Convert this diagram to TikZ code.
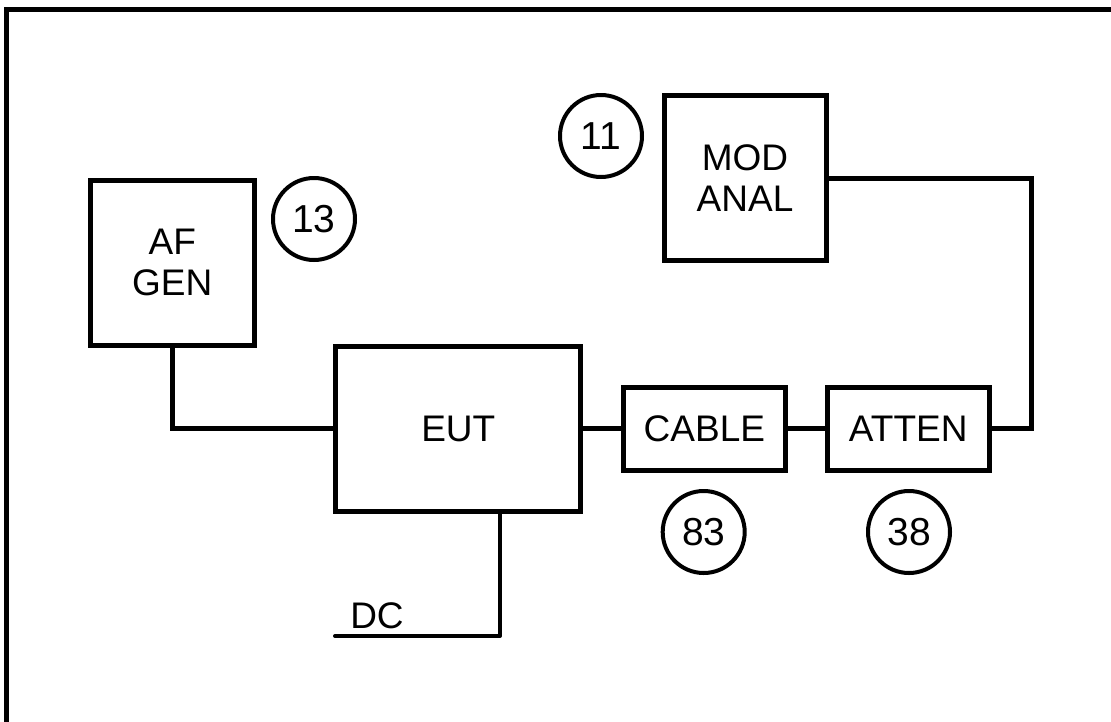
\documentclass[tikz,border=0pt]{standalone}
\usepackage{fontspec}
\setmainfont{Liberation Sans}
\begin{document}
\begin{tikzpicture}[x=1pt,y=-1pt,
  blk/.style={draw,line width=5pt,inner sep=0pt,align=center,
    font=\fontsize{37}{41}\selectfont},
  tag/.style={draw,circle,line width=4pt,inner sep=0pt,minimum size=82pt,
    font=\fontsize{39}{40}\selectfont},
  wire/.style={line width=5pt},
  thinwire/.style={line width=4pt}]
\useasboundingbox (0,0) rectangle (1111,721);
% frame
\draw[line width=5pt] (6.5,730) -- (6.5,9.5) -- (1120,9.5);
% blocks
\node[blk,minimum width=163.5pt,minimum height=165pt] (afgen) at (172.25,262.5) {AF\\GEN};
\node[blk,minimum width=245pt,minimum height=165pt] (eut) at (458.3,428.7) {EUT};
\node[blk,minimum width=162pt,minimum height=165pt] (mod) at (745,178.3) {MOD\\ANAL};
\node[blk,minimum width=162.8pt,minimum height=83pt] (cable) at (704.4,428.7) {CABLE};
\node[blk,minimum width=161.5pt,minimum height=83pt] (atten) at (908.25,428.7) {ATTEN};
% tags
\node[tag] (t13) at (314,219) {13};
\node[tag] (t11) at (601,136) {11};
\node[tag] (t83) at (703.7,532) {83};
\node[tag] (t38) at (909,532) {38};
% connectors
\draw[wire] (afgen.south) |- (eut.west);
\draw[wire] (eut.east) -- (cable.west);
\draw[wire] (cable.east) -- (atten.west);
\coordinate (rc) at (1031.5,300);
\draw[wire] (atten.east) -| (rc) |- (mod.east);
\coordinate (dccorner) at (500,636);
\coordinate (dcend) at (335,636);
\draw[thinwire,line cap=round,line join=round] (eut.south -| dccorner) -- (dccorner) -- (dcend);
\node[anchor=base,inner sep=0pt,font=\fontsize{37}{40}\selectfont] (dc) at (377,628.3) {DC};
\end{tikzpicture}
\end{document}
